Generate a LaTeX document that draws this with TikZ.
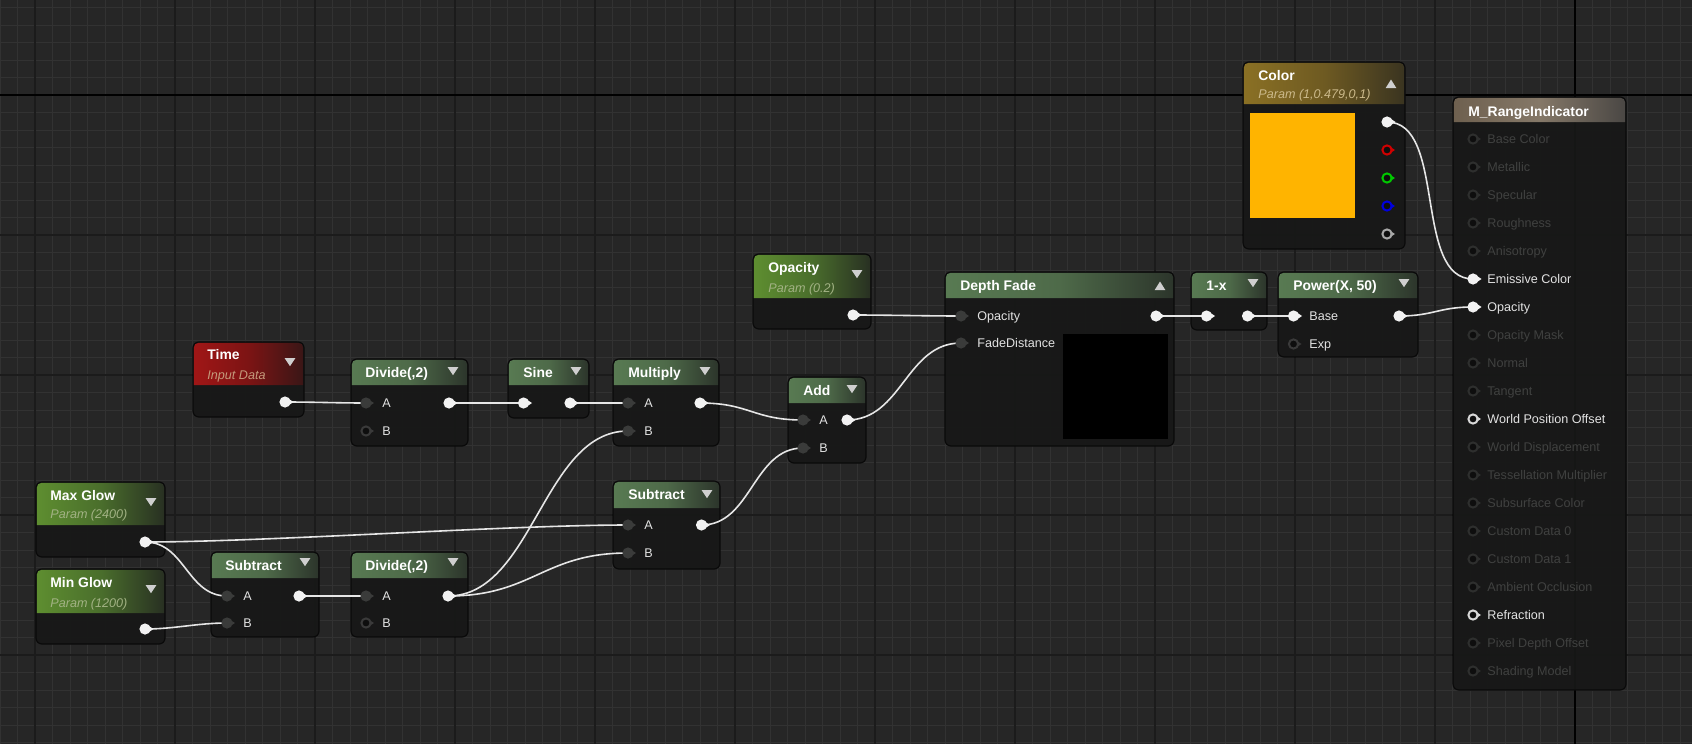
\documentclass[tikz,border=0pt]{standalone}
\usepackage{fontspec}
\setmainfont{Liberation Sans}
\usetikzlibrary{fit,calc}
\definecolor{bgc}{HTML}{262626}
\definecolor{minorc}{HTML}{323232}
\definecolor{majorc}{HTML}{1B1B1B}
\definecolor{bodyc}{HTML}{171817}
\definecolor{edgec}{HTML}{0A0A0A}
\definecolor{pinwhite}{HTML}{F2F2F2}
\definecolor{pindark}{HTML}{3A3B3A}
\definecolor{pinhole}{HTML}{0E0E0E}
\definecolor{ringdark}{HTML}{3A3A3A}
\definecolor{ringdim}{HTML}{2E2F2E}
\definecolor{ringlight}{HTML}{D8D8D8}
\definecolor{ringred}{HTML}{D00000}
\definecolor{ringgreen}{HTML}{00C800}
\definecolor{ringblue}{HTML}{0000E0}
\definecolor{ringgray}{HTML}{A8A8A8}
\definecolor{wirec}{HTML}{E6E6E6}
\definecolor{labc}{HTML}{E2E2E2}
\definecolor{dimc}{HTML}{404140}
\definecolor{subparam}{HTML}{A2B284}
\definecolor{subtime}{HTML}{C49A7C}
\definecolor{subcolor}{HTML}{CBB98A}
\definecolor{swatch}{HTML}{FFB400}
\definecolor{tric}{HTML}{CFCFCF}
\definecolor{HTMLa}{HTML}{587A52}
\definecolor{HTMLm}{HTML}{4E6A49}
\definecolor{HTMLb}{HTML}{2C352B}
\definecolor{parA}{HTML}{5E8E30}
\definecolor{parM}{HTML}{4A6E2C}
\definecolor{parB}{HTML}{283022}
\definecolor{timA}{HTML}{A01616}
\definecolor{timM}{HTML}{7C1414}
\definecolor{timB}{HTML}{3A1616}
\definecolor{colA}{HTML}{8A7024}
\definecolor{colM}{HTML}{6E5A22}
\definecolor{colB}{HTML}{3A3420}
\definecolor{mainA}{HTML}{6E604F}
\definecolor{mainM}{HTML}{857868}
\definecolor{mainB}{HTML}{4A4744}
\newcommand\uetitlefont{\fontsize{6.95}{8}\selectfont\bfseries}
\newcommand\uesubfont{\fontsize{6.3}{7.5}\selectfont\itshape}
\newcommand\uelabfont{\fontsize{6.3}{7.5}\selectfont}
% body + header
\newcommand\uenode[7]{%
  \node[uebody, fit={(#2,#3)(#4,#5)}] (#1) {};
  \shade[#7] (#2+0.8,#6) {[rounded corners=2.4pt] -- (#2+0.8,#3+0.8) -- (#4-0.8,#3+0.8)} -- (#4-0.8,#6) -- cycle;
}
\newcommand\uepin[4]{\coordinate (#1) at (#2,#3); \pic at (#1) {#4};}
\newcommand\uelab[5]{\node[lab, text=#5] (#1) at (#2,#3+4.5) {#4};}
\newcommand\uetitle[4]{\node[ttl] (#1) at (#2,#3) {#4};}
\newcommand\uesub[5]{\node[sub, text=#5] (#1) at (#2,#3) {#4};}
\newcommand\uetri[3]{\coordinate (#1) at (#2,#3); \fill[tric] ($(#1)+(-5.3,-3.8)$) -- ($(#1)+(5.3,-3.8)$) -- ($(#1)+(0,4.2)$) -- cycle;}
\newcommand\uetriup[3]{\coordinate (#1) at (#2,#3); \fill[tric] ($(#1)+(-5.3,4)$) -- ($(#1)+(5.3,4)$) -- ($(#1)+(0,-4.5)$) -- cycle;}
\begin{document}
\begin{tikzpicture}[x=0.5pt,y=-0.5pt,
  uebody/.style={draw=edgec, line width=0.6pt, fill=bodyc, fill opacity=0.93, rounded corners=3pt, inner sep=0pt},
  wire/.style={draw=wirec, line width=0.8pt},
  lab/.style={anchor=base west, inner sep=0pt, font=\uelabfont},
  ttl/.style={anchor=base west, inner sep=0pt, text=white, font=\uetitlefont},
  sub/.style={anchor=base west, inner sep=0pt, font=\uesubfont},
  hdrop/.style={left color=HTMLa, right color=HTMLb, middle color=HTMLm},
  hdrparam/.style={left color=parA, right color=parB, middle color=parM},
  hdrtime/.style={left color=timA, right color=timB, middle color=timM},
  hdrcolor/.style={left color=colA, right color=colB, middle color=colM},
  hdrmain/.style={left color=mainA, right color=mainB, middle color=mainM},
  pics/pinw/.style={code={\fill[pinwhite] (0,0) circle (5.6); \fill[pinwhite] (2.5,-4) -- (8.5,0) -- (2.5,4) -- cycle;}},
  pics/pind/.style={code={\fill[pindark] (0,0) circle (5.6); \fill[pindark] (2.5,-3.5) -- (8,0) -- (2.5,3.5) -- cycle;}},
  pics/ring/.style={code={\fill[#1] (2.5,-3.5) -- (8,0) -- (2.5,3.5) -- cycle; \draw[#1, line width=1pt, fill=pinhole] (0,0) circle (4.6);}},
]

% ---------- background grid ----------
\fill[bgc] (0,0) rectangle (1692,744);
\useasboundingbox (0,0) rectangle (1692,744);
\foreach \k in {-2,...,95} \draw[minorc, line width=0.5pt] ({35+17.5*\k},0) -- ++(0,744);
\foreach \k in {-5,...,37} \draw[minorc, line width=0.5pt] (0,{95+17.5*\k}) -- ++(1692,0);
\foreach \k in {0,...,12} \draw[majorc, line width=0.75pt] ({35+140*\k},0) -- ++(0,744);
\foreach \k in {0,...,5} \draw[majorc, line width=0.75pt] (0,{95+140*\k}) -- ++(1692,0);
\draw[black, line width=0.9pt] (1575,0) -- (1575,744);
\draw[black, line width=0.9pt] (0,95) -- (1692,95);

% ---------- node bodies ----------
\uenode{time}{193}{342}{304}{417}{385}{hdrtime}
\uenode{divA}{351}{359}{468}{446}{385}{hdrop}
\uenode{sine}{508}{359}{589}{418}{385}{hdrop}
\uenode{mult}{613}{359}{719}{446}{385}{hdrop}
\uenode{add}{788}{377}{866}{463}{403}{hdrop}
\uenode{subB}{613}{481}{720}{569}{508}{hdrop}
\uenode{maxg}{36}{482}{165}{557}{525}{hdrparam}
\uenode{ming}{36}{569}{165}{644}{613}{hdrparam}
\uenode{subA}{211}{552}{319}{637}{578}{hdrop}
\uenode{divB}{351}{552}{468}{637}{578}{hdrop}
\uenode{opac}{753}{254}{871}{329}{298}{hdrparam}
\uenode{dfade}{945}{272}{1174}{446}{298}{hdrop}
\uenode{omx}{1191}{272}{1267}{330}{298}{hdrop}
\uenode{pow}{1278}{272}{1418}{357}{298}{hdrop}
\uenode{colr}{1243}{62}{1405}{249}{104}{hdrcolor}
\uenode{mri}{1453}{97}{1626}{690}{122}{hdrmain}

% previews
\fill[black] (1063,334) rectangle (1168,439);
\fill[swatch] (1250,113) rectangle (1355,218);

% ---------- titles ----------
\uetitle{timeT}{207}{359}{Time}
\uesub{timeS}{207}{379.5}{Input Data}{subtime}
\uetitle{divAT}{365}{377}{Divide(,2)}
\uetitle{sineT}{523}{377}{Sine}
\uetitle{multT}{628}{377}{Multiply}
\uetitle{addT}{803}{395}{Add}
\uetitle{subBT}{628}{499.5}{Subtract}
\uetitle{maxgT}{50}{500}{Max Glow}
\uesub{maxgS}{50}{518.5}{Param (2400)}{subparam}
\uetitle{mingT}{50}{587}{Min Glow}
\uesub{mingS}{50}{607.5}{Param (1200)}{subparam}
\uetitle{subAT}{225}{570}{Subtract}
\uetitle{divBT}{365}{570}{Divide(,2)}
\uetitle{opacT}{768}{272}{Opacity}
\uesub{opacS}{768}{292.5}{Param (0.2)}{subparam}
\uetitle{dfadeT}{960}{290}{Depth Fade}
\uetitle{omxT}{1206}{290}{1-x}
\uetitle{powT}{1293}{290}{Power(X, 50)}
\uetitle{colrT}{1258}{80}{Color}
\uesub{colrS}{1258}{98.5}{Param (1,0.479,0,1)}{subcolor}
\uetitle{mriT}{1468}{116}{M\_RangeIndicator}

% ---------- dropdown triangles ----------
\uetri{timeD}{290}{362}
\uetri{divAD}{453}{371}
\uetri{sineD}{576}{371}
\uetri{multD}{705}{371}
\uetri{addD}{852}{389}
\uetri{subBD}{707}{494}
\uetri{maxgD}{151}{502}
\uetri{mingD}{151}{589}
\uetri{subAD}{305}{562}
\uetri{divBD}{453}{562}
\uetri{opacD}{857}{274}
\uetri{omxD}{1253}{283}
\uetri{powD}{1404}{283}
\uetriup{dfadeD}{1160}{286}
\uetriup{colrD}{1391}{84}

% ---------- pin coordinates ----------
\coordinate (timeO) at (285,402);
\coordinate (divAa) at (366,403); \coordinate (divAb) at (366,431); \coordinate (divAo) at (449,403);
\coordinate (sineI) at (523.5,403); \coordinate (sineO) at (570,403);
\coordinate (multa) at (628,403); \coordinate (multb) at (628,431); \coordinate (multo) at (700,403);
\coordinate (adda) at (803,420); \coordinate (addb) at (803,448); \coordinate (addo) at (847,420);
\coordinate (subBa) at (628,525); \coordinate (subBb) at (628,553); \coordinate (subBo) at (701.5,525);
\coordinate (maxgO) at (145,542); \coordinate (mingO) at (145,629);
\coordinate (subAa) at (227,596); \coordinate (subAb) at (227,623); \coordinate (subAo) at (299,596);
\coordinate (divBa) at (366,596); \coordinate (divBb) at (366,623); \coordinate (divBo) at (448,596);
\coordinate (opacO) at (853,315);
\coordinate (dfOp) at (961,316); \coordinate (dfFd) at (961,343); \coordinate (dfO) at (1156,316);
\coordinate (omxI) at (1206.5,316); \coordinate (omxO) at (1247.5,316);
\coordinate (powB) at (1293.5,316); \coordinate (powE) at (1293.5,344); \coordinate (powO) at (1399,316);
\coordinate (colW) at (1387,122); \coordinate (colR) at (1387,150); \coordinate (colG) at (1387,178);
\coordinate (colB) at (1387,206); \coordinate (colA) at (1387,234);
\coordinate (mEm) at (1473,279); \coordinate (mOp) at (1473,307);

% ---------- wires ----------
\draw[wire] (timeO) .. controls +(30,0) and +(-30,0) .. (divAa);
\draw[wire] (divAo) .. controls +(25,0) and +(-25,0) .. (sineI);
\draw[wire] (sineO) .. controls +(20,0) and +(-20,0) .. (multa);
\draw[wire] (multo) .. controls +(50,0) and +(-50,0) .. (adda);
\draw[wire] (maxgO) .. controls +(120,0) and +(-120,0) .. (subBa);
\draw[wire] (maxgO) .. controls +(40,0) and +(-40,0) .. (subAa);
\draw[wire] (mingO) .. controls +(30,0) and +(-30,0) .. (subAb);
\draw[wire] (subAo) .. controls +(25,0) and +(-25,0) .. (divBa);
\draw[wire] (divBo) .. controls +(85,0) and +(-85,0) .. (multb);
\draw[wire] (divBo) .. controls +(85,0) and +(-85,0) .. (subBb);
\draw[wire] (subBo) .. controls +(50,0) and +(-50,0) .. (addb);
\draw[wire] (addo) .. controls +(55,0) and +(-55,0) .. (dfFd);
\draw[wire] (opacO) .. controls +(35,0) and +(-35,0) .. (dfOp);
\draw[wire] (dfO) .. controls +(15,0) and +(-15,0) .. (omxI);
\draw[wire] (omxO) .. controls +(15,0) and +(-15,0) .. (powB);
\draw[wire] (powO) .. controls +(35,0) and +(-35,0) .. (mOp);
\draw[wire] (colW) .. controls +(60,0) and +(-60,0) .. (mEm);

% ---------- pins ----------
\pic at (timeO) {pinw};
\pic at (divAa) {pind}; \pic at (divAb) {ring=ringdark}; \pic at (divAo) {pinw};
\pic at (sineI) {pinw}; \pic at (sineO) {pinw};
\pic at (multa) {pind}; \pic at (multb) {pind}; \pic at (multo) {pinw};
\pic at (adda) {pind}; \pic at (addb) {pind}; \pic at (addo) {pinw};
\pic at (subBa) {pind}; \pic at (subBb) {pind}; \pic at (subBo) {pinw};
\pic at (maxgO) {pinw}; \pic at (mingO) {pinw};
\pic at (subAa) {pind}; \pic at (subAb) {pind}; \pic at (subAo) {pinw};
\pic at (divBa) {pind}; \pic at (divBb) {ring=ringdark}; \pic at (divBo) {pinw};
\pic at (opacO) {pinw};
\pic at (dfOp) {pind}; \pic at (dfFd) {pind}; \pic at (dfO) {pinw};
\pic at (omxI) {pinw}; \pic at (omxO) {pinw};
\pic at (powB) {pinw}; \pic at (powE) {ring=ringdark}; \pic at (powO) {pinw};
\pic at (colW) {pinw}; \pic at (colR) {ring=ringred}; \pic at (colG) {ring=ringgreen};
\pic at (colB) {ring=ringblue}; \pic at (colA) {ring=ringgray};

% ---------- pin labels ----------
\uelab{divAla}{382}{403}{A}{labc} \uelab{divAlb}{382}{431}{B}{labc}
\uelab{multla}{644}{403}{A}{labc} \uelab{multlb}{644}{431}{B}{labc}
\uelab{addla}{819}{420}{A}{labc} \uelab{addlb}{819}{448}{B}{labc}
\uelab{subBla}{644}{525}{A}{labc} \uelab{subBlb}{644}{553}{B}{labc}
\uelab{subAla}{243}{596}{A}{labc} \uelab{subAlb}{243}{623}{B}{labc}
\uelab{divBla}{382}{596}{A}{labc} \uelab{divBlb}{382}{623}{B}{labc}
\uelab{dfl1}{977}{316}{Opacity}{labc} \uelab{dfl2}{977}{343}{FadeDistance}{labc}
\uelab{powl1}{1309}{316}{Base}{labc} \uelab{powl2}{1309}{344}{Exp}{labc}

% ---------- material outputs ----------
\uepin{m0}{1473}{139}{ring=ringdim}   \uelab{ml0}{1487}{139}{Base Color}{dimc}
\uepin{m1}{1473}{167}{ring=ringdim}   \uelab{ml1}{1487}{167}{Metallic}{dimc}
\uepin{m2}{1473}{195}{ring=ringdim}   \uelab{ml2}{1487}{195}{Specular}{dimc}
\uepin{m3}{1473}{223}{ring=ringdim}   \uelab{ml3}{1487}{223}{Roughness}{dimc}
\uepin{m4}{1473}{251}{ring=ringdim}   \uelab{ml4}{1487}{251}{Anisotropy}{dimc}
\pic at (mEm) {pinw};                 \uelab{ml5}{1487}{279}{Emissive Color}{labc}
\pic at (mOp) {pinw};                 \uelab{ml6}{1487}{307}{Opacity}{labc}
\uepin{m7}{1473}{335}{ring=ringdim}   \uelab{ml7}{1487}{335}{Opacity Mask}{dimc}
\uepin{m8}{1473}{363}{ring=ringdim}   \uelab{ml8}{1487}{363}{Normal}{dimc}
\uepin{m9}{1473}{391}{ring=ringdim}   \uelab{ml9}{1487}{391}{Tangent}{dimc}
\uepin{m10}{1473}{419}{ring=ringlight} \uelab{ml10}{1487}{419}{World Position Offset}{labc}
\uepin{m11}{1473}{447}{ring=ringdim}  \uelab{ml11}{1487}{447}{World Displacement}{dimc}
\uepin{m12}{1473}{475}{ring=ringdim}  \uelab{ml12}{1487}{475}{Tessellation Multiplier}{dimc}
\uepin{m13}{1473}{503}{ring=ringdim}  \uelab{ml13}{1487}{503}{Subsurface Color}{dimc}
\uepin{m14}{1473}{531}{ring=ringdim}  \uelab{ml14}{1487}{531}{Custom Data 0}{dimc}
\uepin{m15}{1473}{559}{ring=ringdim}  \uelab{ml15}{1487}{559}{Custom Data 1}{dimc}
\uepin{m16}{1473}{587}{ring=ringdim}  \uelab{ml16}{1487}{587}{Ambient Occlusion}{dimc}
\uepin{m17}{1473}{615}{ring=ringlight} \uelab{ml17}{1487}{615}{Refraction}{labc}
\uepin{m18}{1473}{643}{ring=ringdim}  \uelab{ml18}{1487}{643}{Pixel Depth Offset}{dimc}
\uepin{m19}{1473}{671}{ring=ringdim}  \uelab{ml19}{1487}{671}{Shading Model}{dimc}
\end{tikzpicture}
\end{document}
